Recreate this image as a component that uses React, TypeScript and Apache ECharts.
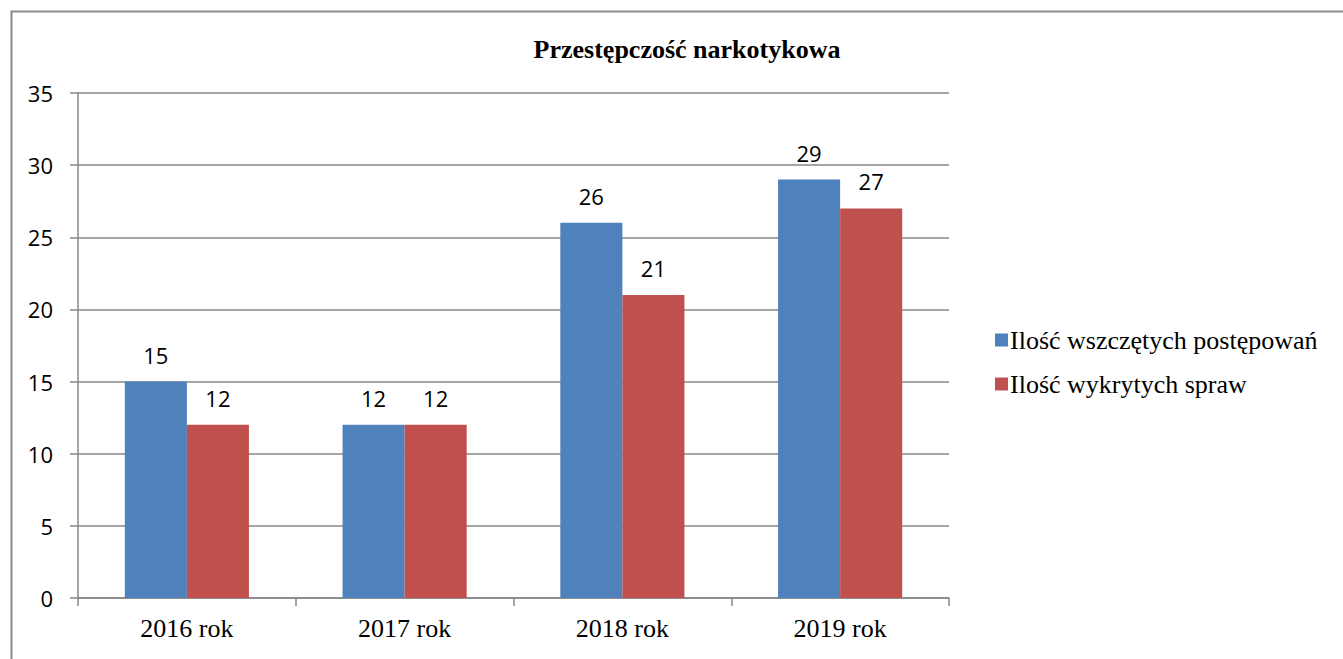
import React, { useEffect, useRef } from "react";
import * as echarts from "echarts";

const categories = ["2016 rok", "2017 rok", "2018 rok", "2019 rok"];
const seriesNames = ["Ilość wszczętych postępowań", "Ilość wykrytych spraw"];
const wszczete = [15, 12, 26, 29];
const wykryte = [12, 12, 21, 27];
const title = "Przestępczość narkotykowa";

export default function App() {
  const ref = useRef<HTMLDivElement>(null);
  useEffect(() => {
    const chart = echarts.init(ref.current!, null, { renderer: "svg" });
    const labelStyle = {
      show: true,
      position: "top" as const,
      distance: 16,
      fontFamily: "Open Sans",
      fontSize: 22,
      color: "#000",
    };
    chart.setOption({
      animation: false,
      backgroundColor: "#fff",
      graphic: [
        {
          type: "rect",
          left: 9,
          top: 9,
          shape: { width: 1400, height: 700 },
          style: { fill: "none", stroke: "#8a8a8a", lineWidth: 2 },
          silent: true,
          z: -10,
        },
      ],
      title: {
        text: title,
        left: 682,
        textAlign: "center",
        top: 31,
        textStyle: {
          fontFamily: "Liberation Serif",
          fontWeight: "bold",
          fontSize: 26,
          color: "#000",
        },
      },
      legend: {
        orient: "vertical",
        left: 990,
        top: 322,
        itemWidth: 13,
        itemHeight: 13,
        itemGap: 18,
        icon: "rect",
        textStyle: {
          fontFamily: "Liberation Serif",
          fontSize: 26,
          color: "#000",
          padding: [0, 0, 0, -3],
        },
        data: seriesNames,
      },
      grid: { left: 78, right: 394, top: 93, bottom: 61, containLabel: false },
      xAxis: {
        type: "category",
        data: categories,
        axisLine: { show: true, lineStyle: { color: "#878787", width: 1.5 } },
        axisTick: { show: true, length: 8, alignWithLabel: false, lineStyle: { color: "#878787", width: 1.5 } },
        axisLabel: {
          fontFamily: "Liberation Serif",
          fontSize: 26,
          color: "#000",
          margin: 17,
        },
      },
      yAxis: {
        type: "value",
        min: 0,
        max: 35,
        interval: 5,
        axisLine: { show: true, lineStyle: { color: "#878787", width: 1.5 } },
        axisTick: { show: true, length: 8, lineStyle: { color: "#878787", width: 1.5 } },
        splitLine: { show: true, lineStyle: { color: "#878787", width: 1.5 } },
        axisLabel: {
          fontFamily: "Open Sans",
          fontSize: 22,
          color: "#000",
          margin: 25,
        },
      },
      series: [
        {
          name: seriesNames[0],
          type: "bar",
          data: wszczete,
          itemStyle: { color: "#4F81BD" },
          barGap: "0%",
          barCategoryGap: "43%",
          label: labelStyle,
        },
        {
          name: seriesNames[1],
          type: "bar",
          data: wykryte,
          itemStyle: { color: "#C0504D" },
          label: labelStyle,
        },
      ],
    });
    return () => chart.dispose();
  }, []);
  return (
    <div
      ref={ref}
      style={{ position: "fixed", left: 0, top: 0, width: 1343, height: 659 }}
    />
  );
}
